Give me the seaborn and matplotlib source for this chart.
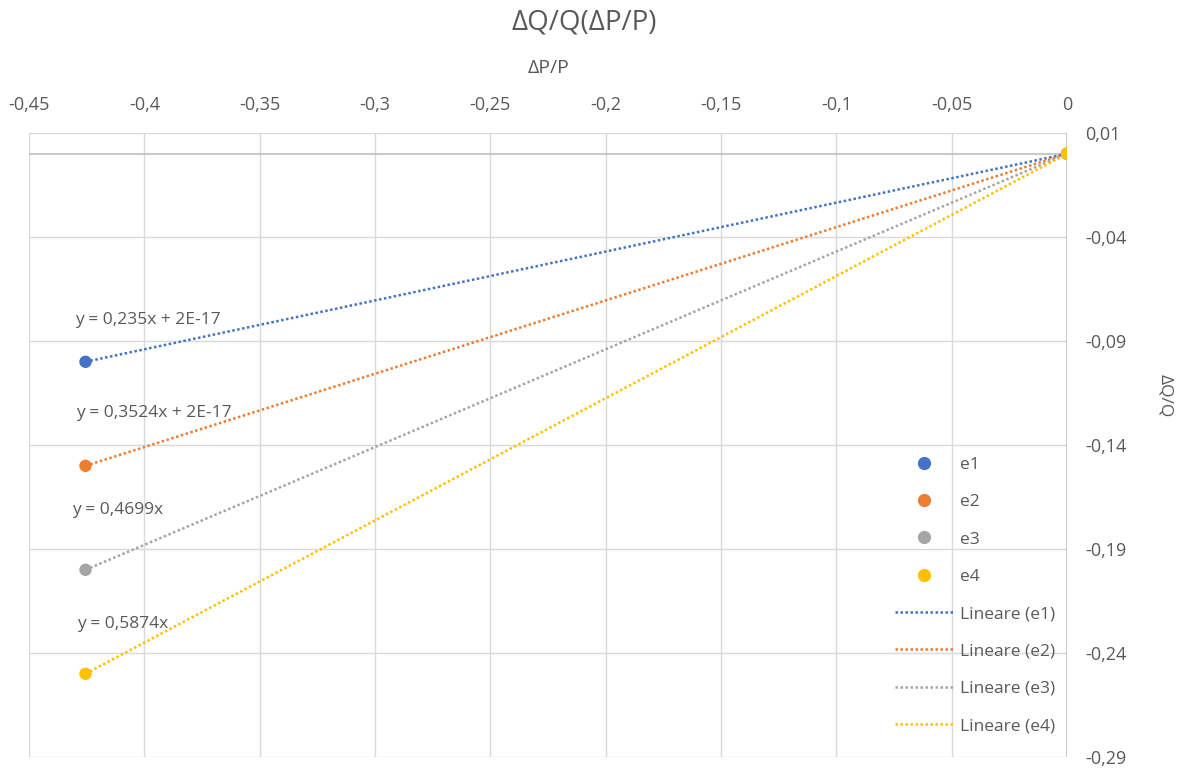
import numpy as np
import pandas as pd
import seaborn as sns
import matplotlib.pyplot as plt
from matplotlib.ticker import FuncFormatter
from matplotlib.lines import Line2D

# data
series = ["e1", "e2", "e3", "e4"]
dp_p = [-0.4255, 0.0]
dq_q = {
    "e1": [-0.1, 0.0],
    "e2": [-0.15, 0.0],
    "e3": [-0.2, 0.0],
    "e4": [-0.25, 0.0],
}
equations = ["y = 0,235x + 2E-17", "y = 0,3524x + 2E-17", "y = 0,4699x", "y = 0,5874x"]
colors = ["#4472C4", "#ED7D31", "#A5A5A5", "#FFC000"]
x_ticks = [-0.45, -0.4, -0.35, -0.3, -0.25, -0.2, -0.15, -0.1, -0.05, 0]
y_ticks = [0.01, -0.04, -0.09, -0.14, -0.19, -0.24, -0.29]

rows = []
for s in series:
    for x, y in zip(dp_p, dq_q[s]):
        rows.append({"dP/P": x, "dQ/Q": y, "serie": s})
df = pd.DataFrame(rows)

sns.set_theme(style="white")
plt.rcParams['font.family'] = ['Open Sans', 'DejaVu Sans']
txt = "#595959"

fig = plt.figure(figsize=(11.85, 7.7), dpi=100)
ax = fig.add_axes([29 / 1185, 1 - 757 / 770, (1067 - 29) / 1185, (757 - 133) / 770])

# trendlines (linear fit per series)
for s, c in zip(series, colors):
    sub = df[df["serie"] == s]
    sns.regplot(data=sub, x="dP/P", y="dQ/Q", scatter=False, ci=None, ax=ax,
                line_kws=dict(color=c, linestyle=(0, (1, 1)), linewidth=1.8, zorder=3))

sns.scatterplot(data=df, x="dP/P", y="dQ/Q", hue="serie", palette=colors,
                s=80, edgecolor="none", legend=False, ax=ax, zorder=4)

ax.set_xlim(-0.45, 0)
ax.set_ylim(-0.29, 0.01)
ax.set_xticks(x_ticks)
ax.set_yticks(y_ticks)
fmt = FuncFormatter(lambda v, p: ("%g" % round(v, 4)).replace(".", ","))
ax.xaxis.set_major_formatter(fmt)
ax.yaxis.set_major_formatter(fmt)
ax.xaxis.tick_top()
ax.yaxis.tick_right()
ax.tick_params(axis="x", length=0, pad=14, labelsize=13, colors=txt)
ax.tick_params(axis="y", length=0, pad=13, labelsize=13, colors=txt)
ax.grid(True, color="#d9d9d9", linewidth=1)
for sp in ax.spines.values():
    sp.set_visible(False)
ax.axhline(0, color="#bfbfbf", linewidth=1.2, zorder=2)
ax.axvline(0, color="#bfbfbf", linewidth=1.2, zorder=2)
ax.set_xlabel("")
ax.set_ylabel("")

# equation labels
eq_pos = [(148, 320), (154, 413), (118, 510), (123, 624)]
for eq, (px, py) in zip(equations, eq_pos):
    fig.text(px / 1185, 1 - py / 770, eq, ha="center", va="center", fontsize=12.5, color=txt)

fig.suptitle("ΔQ/Q(ΔP/P)", y=1 - 22 / 770, x=584 / 1185, va="center", fontsize=20, color=txt)
fig.text(548 / 1185, 1 - 68 / 770, "ΔP/P", ha="center", va="center", fontsize=14, color=txt)
fig.text(1165 / 1185, 1 - 396 / 770, "ΔQ/Q", ha="center", va="center", rotation=270,
         fontsize=12.5, color=txt)

handles = [Line2D([], [], marker="o", linestyle="none", color=c, markersize=8.5) for c in colors]
handles += [Line2D([], [], linestyle=(0, (1, 1)), color=c, linewidth=1.8) for c in colors]
labels = series + ["Lineare (%s)" % s for s in series]
leg = ax.legend(handles, labels, loc="lower right", bbox_to_anchor=(1.0, 0.017), frameon=False,
                labelspacing=1.22, handlelength=3.4, handletextpad=0.35, fontsize=12.5,
                labelcolor=txt, borderaxespad=0.3)

fig.savefig("out.png", dpi=100)
